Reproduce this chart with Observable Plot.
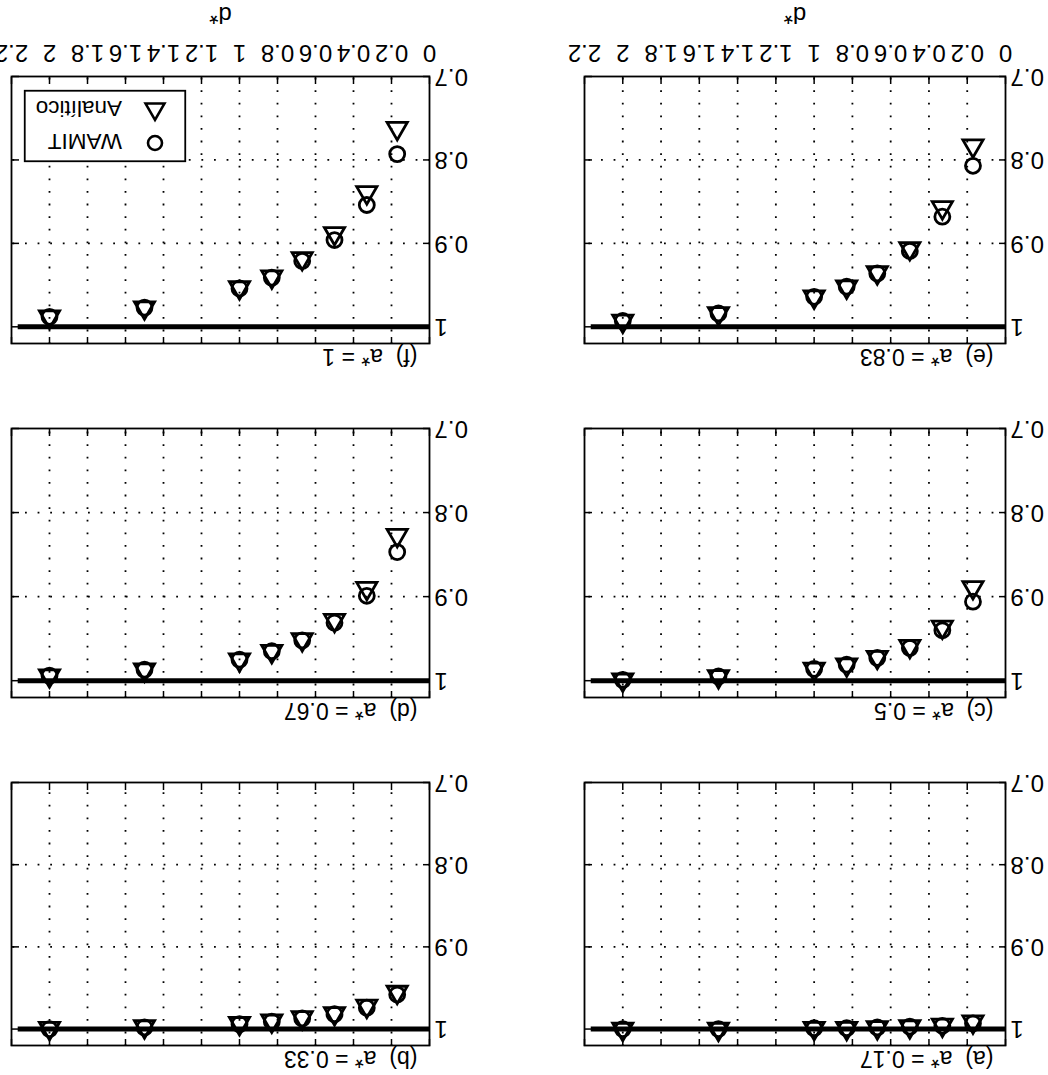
<!DOCTYPE html>
<html><head><meta charset="utf-8">
<script src="https://cdn.jsdelivr.net/npm/d3@7"></script>
<script src="https://cdn.jsdelivr.net/npm/@observablehq/plot@0.6"></script>
<style>
body{margin:0;background:#fff;}
#fig{position:relative;width:1048px;height:1075px;transform:rotate(180deg);transform-origin:50% 50%;overflow:hidden;background:#fff;font-family:"Liberation Sans",Arial,Helvetica,sans-serif;}
#fig > svg, #fig > div{position:absolute;}
</style></head><body><div id="fig"></div>
<script>
// ---- data ----
const dStar = [0.17, 0.33, 0.5, 0.67, 0.83, 1.0, 1.5, 2.0];
const panelTags = ["(a)", "(b)", "(c)", "(d)", "(e)", "(f)"];
const aStarValues = ["0.17", "0.33", "0.5", "0.67", "0.83", "1"];
const wamitA = [0.993, 0.996, 0.997, 0.998, 0.999, 0.999, 1.0, 1.0];
const analiticoA = [0.991, 0.995, 0.997, 0.998, 0.999, 0.999, 1.0, 1.0];
const wamitB = [0.958, 0.974, 0.982, 0.987, 0.991, 0.994, 0.998, 1.0];
const analiticoB = [0.955, 0.972, 0.981, 0.986, 0.990, 0.993, 0.997, 0.999];
const wamitC = [0.906, 0.940, 0.961, 0.973, 0.981, 0.986, 0.995, 0.999];
const analiticoC = [0.889, 0.936, 0.959, 0.972, 0.981, 0.986, 0.995, 0.999];
const wamitD = [0.847, 0.899, 0.931, 0.952, 0.965, 0.975, 0.987, 0.994];
const analiticoD = [0.827, 0.890, 0.928, 0.951, 0.965, 0.975, 0.987, 0.994];
const wamitE = [0.807, 0.868, 0.909, 0.936, 0.952, 0.964, 0.984, 0.993];
const analiticoE = [0.783, 0.857, 0.906, 0.935, 0.952, 0.964, 0.984, 0.993];
const wamitF = [0.793, 0.854, 0.896, 0.921, 0.941, 0.954, 0.977, 0.988];
const analiticoF = [0.762, 0.839, 0.888, 0.918, 0.940, 0.953, 0.977, 0.988];
const xTicks = [0, 0.2, 0.4, 0.6, 0.8, 1, 1.2, 1.4, 1.6, 1.8, 2, 2.2];
const xGrid = [0.2, 0.4, 0.6, 0.8, 1, 1.2, 1.4, 1.6, 1.8, 2];
const yTicks = [0.7, 0.8, 0.9, 1];
const yGrid = [0.8, 0.9];
const refValue = [1];
const refStart = [0];
const refEnd = [2.17];
const xLabel = "d*";
const legendNames = ["WAMIT", "Analítico"];

const wamitSeries = [wamitA, wamitB, wamitC, wamitD, wamitE, wamitF];
const analiticoSeries = [analiticoA, analiticoB, analiticoC, analiticoD, analiticoE, analiticoF];

// ---- layout ----
const colX = [42, 618], colW = [421, 418];
const rowY = [29, 377, 731], rowH = [263, 269, 267];
const mL = 42, mR = 8, mT = 30;
const fig = document.getElementById("fig");
const FONT = '"Liberation Sans", Arial, Helvetica, sans-serif';
const fmt = d => String(d);

for (let i = 0; i < 6; i++) {
  const col = i % 2, row = Math.floor(i / 2);
  const bottom = row === 2;
  const fw = colW[col], fh = rowH[row];
  const mB = bottom ? 77 : 8;
  const rows = dStar.map((d, k) => ({d, w: wamitSeries[i][k], a: analiticoSeries[i][k]}));
  const title = panelTags[i] + "\u00a0\u00a0a* = " + aStarValues[i];
  const grid = {stroke: "black", strokeWidth: 1.8, strokeDasharray: "1.8,10.8", strokeOpacity: 1};
  const marks = [
    Plot.ruleX(xGrid, grid),
    Plot.ruleY(yGrid, grid),
    Plot.ruleX(xTicks, {insetTop: fh - 7, stroke: "black", strokeWidth: 1.5}),
    Plot.ruleX(xTicks, {insetBottom: fh - 7, stroke: "black", strokeWidth: 1.5}),
    Plot.ruleY(yTicks, {insetRight: fw - 7, stroke: "black", strokeWidth: 1.5}),
    Plot.ruleY(yTicks, {insetLeft: fw - 7, stroke: "black", strokeWidth: 1.5}),
    Plot.ruleY(refValue, {x1: () => refStart[0], x2: () => refEnd[0], stroke: "black", strokeWidth: 5}),
    Plot.dot(rows, {x: "d", y: "w", r: 7.5, stroke: "black", strokeWidth: 2.8, fill: "none"}),
    Plot.dot(rows, {x: "d", y: "a", r: 7.5, symbol: "triangle", stroke: "black", strokeWidth: 2.8, fill: "none"}),
    Plot.frame({stroke: "black", strokeWidth: 1.8}),
    Plot.axisY(yTicks, {tickSize: 0, tickPadding: 5, label: null, fontSize: 24, tickFormat: fmt}),
    Plot.text([title], {frameAnchor: "top-left", dx: 12, dy: -5, textAnchor: "start", lineAnchor: "bottom", fontSize: 23, fill: "black"})
  ];
  if (bottom) {
    marks.push(Plot.axisX(xTicks, {tickSize: 0, tickPadding: 14, label: xLabel, labelAnchor: "center", labelArrow: "none", labelOffset: 70, fontSize: 24, tickFormat: fmt}));
  }
  const svg = Plot.plot({
    width: mL + fw + mR,
    height: mT + fh + mB,
    marginLeft: mL, marginRight: mR, marginTop: mT, marginBottom: mB,
    x: {domain: [0, 2.2], axis: null},
    y: {domain: [0.7, 1.02], axis: null},
    style: {fontFamily: FONT, fontSize: "24px", color: "black", background: "transparent", overflow: "visible"},
    marks
  });
  svg.style.left = (colX[col] - mL) + "px";
  svg.style.top = (rowY[row] - mT) + "px";
  svg.style.position = "absolute";
  fig.appendChild(svg);
}

// ---- legend (inside panel f, lower right) ----
const lg = d3.create("svg").attr("width", 162).attr("height", 72)
  .style("left", "862px").style("top", "913px").style("position", "absolute").style("overflow", "visible");
lg.append("rect").attr("x", 0.75).attr("y", 0.75).attr("width", 160.5).attr("height", 70.5)
  .attr("fill", "white").attr("stroke", "black").attr("stroke-width", 1.8);
lg.append("circle").attr("cx", 31).attr("cy", 19).attr("r", 7).attr("fill", "none").attr("stroke", "black").attr("stroke-width", 2.6);
lg.append("path").attr("transform", "translate(31,53)").attr("d", d3.symbol(d3.symbolTriangle, Math.PI * 49)())
  .attr("fill", "none").attr("stroke", "black").attr("stroke-width", 2.6);
legendNames.forEach((n, k) => {
  lg.append("text").attr("x", 64).attr("y", 28 + k * 33).attr("font-family", FONT).attr("font-size", 22.5).attr("fill", "black").text(n);
});
fig.appendChild(lg.node());
</script>
</body></html>
